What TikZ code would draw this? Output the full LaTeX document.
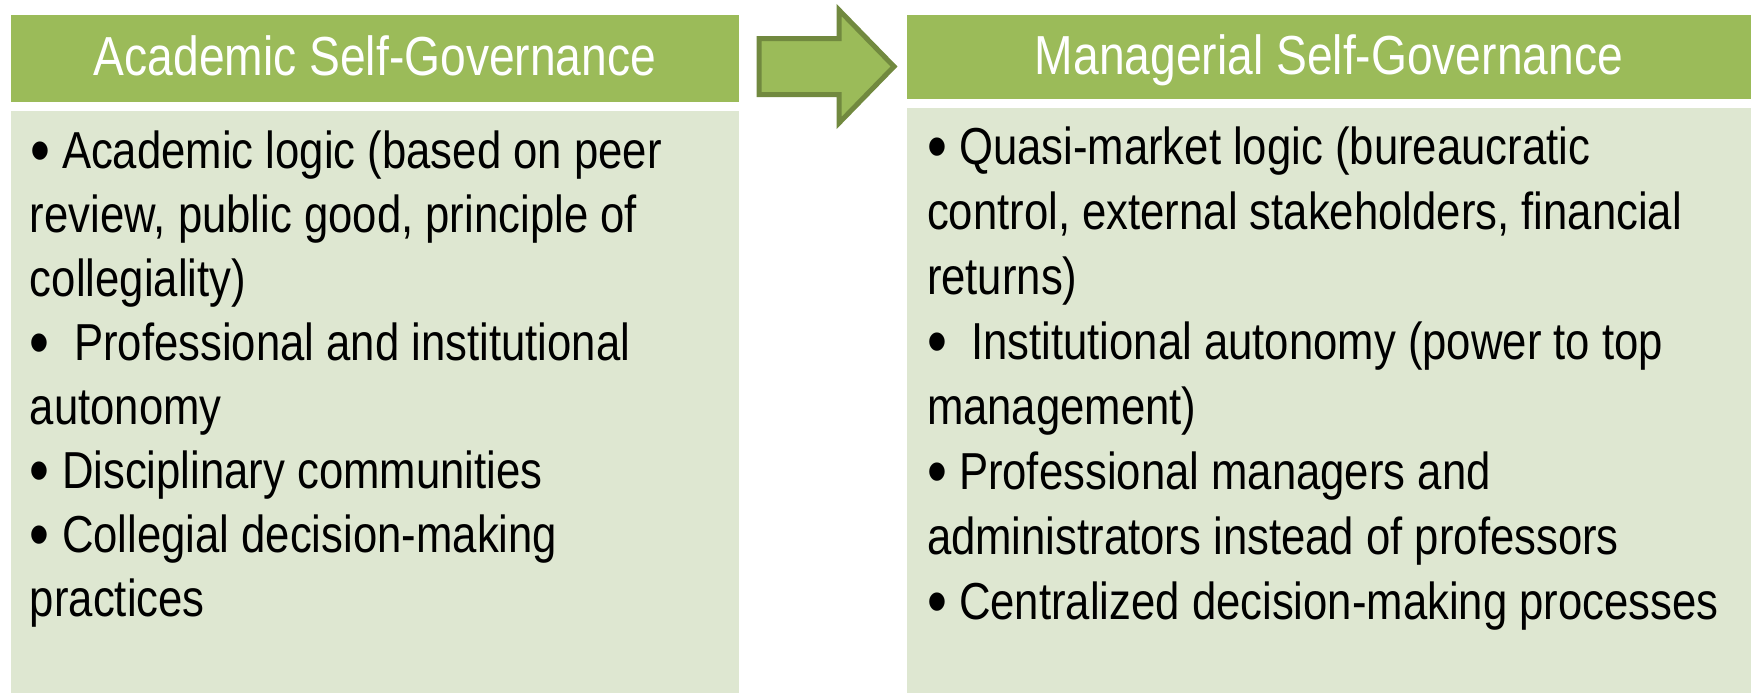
\documentclass[tikz,border=0pt]{standalone}
\usepackage{fontspec}
\setmainfont{Liberation Sans}[FakeStretch=0.84]
\definecolor{headgreen}{HTML}{9BBB59}
\definecolor{listgreen}{HTML}{DEE7D1}
\definecolor{arrowedge}{HTML}{71893F}
\newcommand\listdot{\raisebox{-0.1em}{\scalebox{1.3}{•}}}
\tikzset{
  headbox/.style={fill=headgreen,inner sep=0pt},
  listbox/.style={fill=listgreen,inner sep=0pt},
  headtext/.style={text=white,inner sep=0pt,anchor=base,font=\fontsize{27.5}{32}\selectfont},
  listtext/.style={inner sep=0pt,align=left,anchor=base west},
}
\begin{document}
\begin{tikzpicture}[x=0.5pt,y=0.5pt]
  \useasboundingbox (0,0) rectangle (1751,693);
  %% left column
  \node[headbox,minimum width=364pt,minimum height=43.5pt] (acad) at (375,634.5) {};
  \node[listbox,minimum width=364pt,minimum height=291pt] (acadlist) at (375,291) {};
  %% right column
  \node[headbox,minimum width=422pt,minimum height=42pt] (mgr) at (1329,636) {};
  \node[listbox,minimum width=422pt,minimum height=292.5pt] (mgrlist) at (1329,292.5) {};
  %% titles
  \node[headtext] (acadtitle) at ([yshift=13.5pt]acad.south) {Academic Self-Governance};
  \node[headtext] (mgrtitle) at ([yshift=12.5pt]mgr.south) {Managerial Self-Governance};
  %% lists (anchored at the last line)
  \node[listtext,font=\fontsize{26}{32}\selectfont] (acaditems) at ([xshift=9.5pt,yshift=38.5pt]acadlist.south west)
    {\listdot{} Academic logic (based on peer\\
     review, public good, principle of\\
     collegiality)\\
     \listdot{} \ Professional and institutional\\
     autonomy\\
     \listdot{} Disciplinary communities\\
     \listdot{} Collegial decision-making\\
     practices};
  \node[listtext,font=\fontsize{26}{32.5}\selectfont] (mgritems) at ([xshift=10pt,yshift=37.2pt]mgrlist.south west)
    {\listdot{} Quasi-market logic (bureaucratic\\
     control, external stakeholders, financial\\
     returns)\\
     \listdot{} \ Institutional autonomy (power to top\\
     management)\\
     \listdot{} Professional managers and\\
     administrators instead of professors\\
     \listdot{} Centralized decision-making processes};
  %% arrow
  \draw[line width=2.5pt,draw=arrowedge,fill=headgreen] (759,654.5) -- ++(80,0) -- ++(0,28.5)
    -- (894,626.5) -- (839,570) -- ++(0,28.5) -- (759,598.5) -- cycle;
\end{tikzpicture}
\end{document}
